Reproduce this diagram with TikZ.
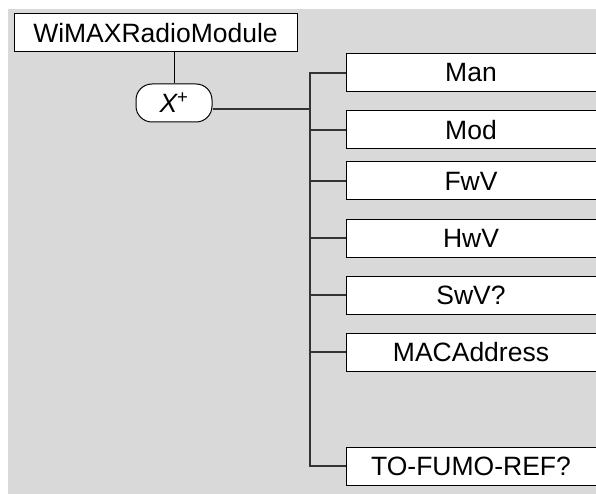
\documentclass[tikz,border=0pt]{standalone}
\usepackage{fontspec}
\setmainfont{Liberation Sans}
\pgfdeclarelayer{bglayer}
\pgfdeclarelayer{edgelayer}
\pgfdeclarelayer{nodelayer}
\pgfsetlayers{bglayer,edgelayer,nodelayer,main}
\definecolor{panelgray}{RGB}{217,217,217}
\definecolor{wiregray}{RGB}{51,51,51}
\tikzstyle{element}=[rectangle,fill=white,draw=black,line width=1pt,minimum height=38pt,inner sep=0pt,font=\fontsize{26.5}{30}\selectfont]
\tikzstyle{root}=[element,minimum width=283pt]
\tikzstyle{leaf}=[element,minimum width=250pt]
\tikzstyle{choice}=[element,rounded corners=16pt,minimum width=76pt]
\tikzstyle{wire}=[draw=wiregray,line width=1.3pt]
\tikzstyle{link}=[draw=black,line width=1pt]

\begin{document}
\begin{tikzpicture}[x=1pt,y=-1pt]
	\useasboundingbox (0,0) rectangle (596,494);
	\begin{pgfonlayer}{bglayer}
		\fill [panelgray] (8,9) rectangle (596,494);
	\end{pgfonlayer}
	\begin{pgfonlayer}{nodelayer}
		\node [style=root] (0) at (155.5, 33) {WiMAXRadioModule};
		\node [style=choice] (1) at (174, 103) {\textit{X}\kern-1pt\textsuperscript{+}};
		\node [style=leaf] (2) at (471, 73) {Man};
		\node [style=leaf] (3) at (471, 130) {Mod};
		\node [style=leaf] (4) at (471, 181) {FwV};
		\node [style=leaf] (5) at (471, 238) {HwV};
		\node [style=leaf] (6) at (471, 295) {SwV?};
		\node [style=leaf] (7) at (471, 352) {MACAddress};
		\node [style=leaf] (8) at (471, 466) {TO-FUMO-REF?};
		\coordinate (j) at (310, 109);
	\end{pgfonlayer}
	\begin{pgfonlayer}{edgelayer}
		\draw [style=link] (1.north) to (1.north |- 0.south);
		\draw [style=wire] ([yshift=-6pt]1.east) to (j);
		\foreach \n in {2,...,8}
			\draw [style=wire] (\n.west) -| (j);
	\end{pgfonlayer}
\end{tikzpicture}
\end{document}
